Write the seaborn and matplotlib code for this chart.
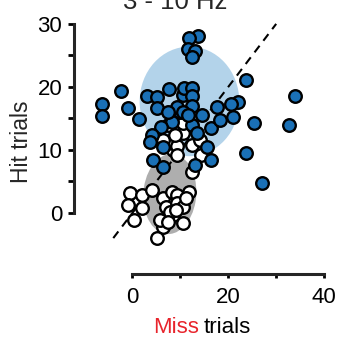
import matplotlib
matplotlib.use("Agg")
import matplotlib.pyplot as plt
from matplotlib.patches import Ellipse
import numpy as np
import pandas as pd
import seaborn as sns

# 3 - 10 Hz band: trials per unit, miss (x) vs hit (y)
blue_miss = [13.6, 11.9, 11.5, 13.0, 12.4, -6.4, -6.4, -2.4, -1.0, 1.3, 3.0, 5.1, 5.1, 7.6,
             10.5, 10.7, 12.4, 12.4, 23.8, 22.0, 20.5, 17.6, 34.0, 12.4, 9.9, 9.2, 8.2, 5.9,
             4.0, 3.6, 4.2, 6.3, 6.3, 12.4, 14.6, 16.5, 18.2, 20.9, 15.5, 16.3, 13.0, 23.6,
             25.3, 32.6, 27.1, 13.4, 10.5, 7.4, 11.5]
blue_hit = [28.0, 27.7, 26.0, 25.7, 24.7, 17.3, 15.3, 19.3, 16.6, 14.9, 18.5, 18.4, 16.6, 19.6,
            18.7, 19.9, 19.9, 18.5, 21.1, 17.6, 17.3, 16.8, 18.5, 16.9, 16.0, 16.8, 14.4, 13.6,
            12.3, 11.2, 8.4, 7.3, 10.4, 13.9, 15.5, 13.4, 14.7, 15.2, 10.4, 8.4, 7.6, 9.5,
            14.2, 13.9, 4.7, 12.7, 16.0, 16.0, 15.5]

white_miss = [-0.6, 1.9, -1.0, 1.9, 0.3, 4.0, 6.3, 8.2, 9.4, 11.9, 7.1, 9.4, 10.5, 8.4,
              10.5, 6.3, 5.7, 5.1, 7.8, 9.0, 7.4, 11.1, 10.5, 12.4, 8.4, 7.4, 14.4, 12.4,
              7.4, 10.5, 9.4, 6.3, 8.8, 14.0, 9.4]
white_hit = [3.1, 2.8, 1.2, 0.7, -1.2, 3.6, 2.3, 3.3, 2.8, 3.3, 0.9, 1.5, 0.9, -0.4,
             -1.6, -2.3, -1.2, -4.0, 0.1, 0.4, -1.5, 2.3, 12.7, 10.7, 10.0, 11.1, 9.2, 6.5,
             13.9, 14.3, 10.6, 11.5, 12.3, 11.5, 9.2]

# spread ellipses: centre x, centre y, width, height, angle
hit_ell = (11.9, 17.7, 20.8, 17.4, 0)
miss_ell = (7.8, 3.0, 11.0, 12.8, -12)

hits = pd.DataFrame({"miss": blue_miss, "hit": blue_hit})
misses = pd.DataFrame({"miss": white_miss, "hit": white_hit})

sns.set_style("ticks")
plt.rcParams["font.family"] = ["Liberation Sans", "DejaVu Sans"]

fig = plt.figure(figsize=(3.39, 3.39), dpi=100)
ax = fig.add_axes([74 / 339, 65 / 339, 252 / 339, 252 / 339])

ax.add_patch(Ellipse(hit_ell[:2], hit_ell[2], hit_ell[3], angle=hit_ell[4],
                     facecolor="#b3d3ea", edgecolor="none", zorder=1))
ax.add_patch(Ellipse(miss_ell[:2], miss_ell[2], miss_ell[3], angle=miss_ell[4],
                     facecolor="#8f8f8f", alpha=0.72, edgecolor="none", zorder=1.1))
ax.plot([-4, 30], [-4, 30], color="black", lw=1.5, dashes=(4, 3), zorder=2)

sns.scatterplot(data=misses, x="miss", y="hit", color="white", edgecolor="black",
                linewidth=1.7, s=82, ax=ax, zorder=3)
sns.scatterplot(data=hits, x="miss", y="hit", color="#1a70b6", edgecolor="black",
                linewidth=1.7, s=82, ax=ax, zorder=4)

ax.set_xlim(-12.2, 40.4)
ax.set_ylim(-9.7, 30.3)
ax.set_xlabel("")
ax.set_ylabel("")

sns.despine(ax=ax)
ax.spines["left"].set_bounds(0, 30)
ax.spines["bottom"].set_bounds(0, 40)
for sp in ("left", "bottom"):
    ax.spines[sp].set_linewidth(2.2)

ax.set_xticks([0, 10, 20, 30, 40])
ax.set_xticklabels(["0", "", "20", "", "40"])
ax.set_yticks([0, 5, 10, 15, 20, 25, 30])
ax.set_yticklabels(["0", "", "10", "", "20", "", "30"])
ax.tick_params(axis="both", labelsize=16, width=2, colors="black")
ax.tick_params(axis="y", length=4, pad=4.5)
ax.tick_params(axis="x", length=3, pad=6.5)

fig.text(175 / 339, 1 - 9 / 339, "3 - 10 Hz", ha="center", va="baseline", fontsize=18.5)
fig.text(22 / 339, 1 - 142 / 339, "Hit trials", rotation=90, ha="center", va="center",
         fontsize=16.5)
fig.text(153 / 339, 1 - 333 / 339, "Miss", color="#e8242c", ha="left", va="baseline",
         fontsize=16)
fig.text(204 / 339, 1 - 333 / 339, "trials", color="black", ha="left", va="baseline",
         fontsize=16)

fig.savefig("out.png", dpi=100)
